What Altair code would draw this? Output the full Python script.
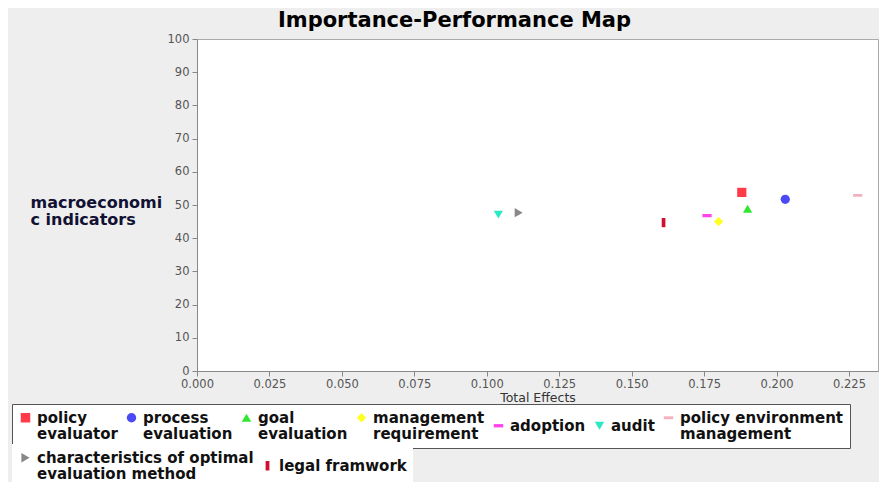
import json
import altair as alt
import pandas as pd

constructs = [
    "policy evaluator",
    "process evaluation",
    "goal evaluation",
    "management requirement",
    "adoption",
    "audit",
    "policy environment management",
    "characteristics of optimal evaluation method",
    "legal framwork",
]
total_effects = [0.188, 0.203, 0.190, 0.180, 0.176, 0.104, 0.228, 0.111, 0.161]
performances = [53.8, 51.7, 48.9, 45.0, 46.8, 47.1, 52.9, 47.7, 44.7]
legend_labels = [
    "policy|evaluator",
    "process|evaluation",
    "goal|evaluation",
    "management|requirement",
    "adoption",
    "audit",
    "policy environment|management",
    "characteristics of optimal|evaluation method",
    "legal framwork",
]
colors = ["#ff3b4a", "#4b4bf5", "#2ee82e", "#ffff22", "#ff44ee", "#2de8c4",
          "#f4b0c0", "#888888", "#d01030"]
shapes = [
    "square",
    "circle",
    "triangle-up",
    "diamond",
    "M-1,-0.35H1V0.35H-1Z",
    "triangle-down",
    "M-1,-0.3H1V0.3H-1Z",
    "triangle-right",
    "M-0.4,-1H0.4V1H-0.4Z",
]
x_ticks = [0.0, 0.025, 0.05, 0.075, 0.1, 0.125, 0.15, 0.175, 0.2, 0.225]
y_ticks = [0, 10, 20, 30, 40, 50, 60, 70, 80, 90, 100]
title_text = "Importance-Performance Map"
x_title = "Total Effects"
y_title = ["macroeconomi", "c indicators"]
first_row = 7  # legend items in the first legend row

df = pd.DataFrame({"construct": constructs, "effect": total_effects,
                   "performance": performances})
df_a = df.iloc[:first_row]
df_b = df.iloc[first_row:].rename(columns={"construct": "construct_b"})

label_map = json.dumps(dict(zip(constructs, legend_labels)))
label_expr = f"split({label_map}[datum.label], '|')"

legend_common = dict(
    title=None, orient="none", direction="horizontal",
    labelExpr=label_expr, labelFont="DejaVu Sans", labelFontSize=15,
    labelFontWeight="bold", labelColor="#111111", labelLimit=400,
    symbolSize=90, symbolStrokeWidth=0, symbolOpacity=1,
    fillColor="white", padding=6, columnPadding=6, labelOffset=4,
)
legend_a = alt.Legend(legendX=-185, legendY=365, columns=first_row,
                      strokeColor="#555555", **legend_common)
legend_b = alt.Legend(legendX=-185, legendY=405, columns=2, **legend_common)

x_enc = alt.X("effect:Q",
              scale=alt.Scale(domain=[0, 0.235], nice=False, zero=False),
              axis=alt.Axis(values=x_ticks, format=".3f", title=x_title, grid=False,
                            labelFlush=False, labelFont="DejaVu Sans", labelFontSize=11.5,
                            labelColor="#555555", tickColor="#888888",
                            domainColor="#888888", tickSize=5, labelPadding=2,
                            titleFont="DejaVu Sans", titleFontSize=12.5,
                            titleFontWeight="normal", titleColor="#333333",
                            titlePadding=2))
y_enc = alt.Y("performance:Q",
              scale=alt.Scale(domain=[0, 100], nice=False),
              axis=alt.Axis(values=y_ticks, grid=False, title=y_title, titleAngle=0,
                            titleAlign="left", titleX=-167, titleY=168,
                            titleBaseline="alphabetic", titleFontSize=16,
                            titleFontWeight="bold", titleFont="DejaVu Sans",
                            titleLineHeight=17, titleColor="#111133",
                            labelFlush=False, labelFont="DejaVu Sans", labelFontSize=11.5,
                            labelColor="#555555", tickColor="#888888",
                            domainColor="#888888", tickSize=5, labelPadding=3))

layer_a = alt.Chart(df_a).mark_point(filled=True, size=85, opacity=1).encode(
    x=x_enc, y=y_enc,
    color=alt.Color("construct:N",
                    scale=alt.Scale(domain=constructs[:first_row], range=colors[:first_row]),
                    legend=legend_a),
    shape=alt.Shape("construct:N",
                    scale=alt.Scale(domain=constructs[:first_row], range=shapes[:first_row]),
                    legend=legend_a),
)
layer_b = alt.Chart(df_b).mark_point(filled=True, size=85, opacity=1).encode(
    x=x_enc, y=y_enc,
    color=alt.Color("construct_b:N",
                    scale=alt.Scale(domain=constructs[first_row:], range=colors[first_row:]),
                    legend=legend_b),
    shape=alt.Shape("construct_b:N",
                    scale=alt.Scale(domain=constructs[first_row:], range=shapes[first_row:]),
                    legend=legend_b),
)

chart = alt.layer(layer_a, layer_b).resolve_scale(
    color="independent", shape="independent"
).properties(
    width=681, height=332,
    title=alt.TitleParams(title_text, font="DejaVu Sans", fontSize=21,
                          fontWeight="bold", color="black", anchor="middle",
                          offset=2, dx=-83),
    background="#eeeeee",
    padding={"left": 189, "top": 31, "right": 1, "bottom": 111},
    autosize="none",
).configure(
    style={"guide-label": {"lineHeight": 16}},
    view=alt.ViewConfig(fill="white", stroke="#aaaaaa"),
)

chart.save("out.html", embed_options={"renderer": "svg", "actions": False})
